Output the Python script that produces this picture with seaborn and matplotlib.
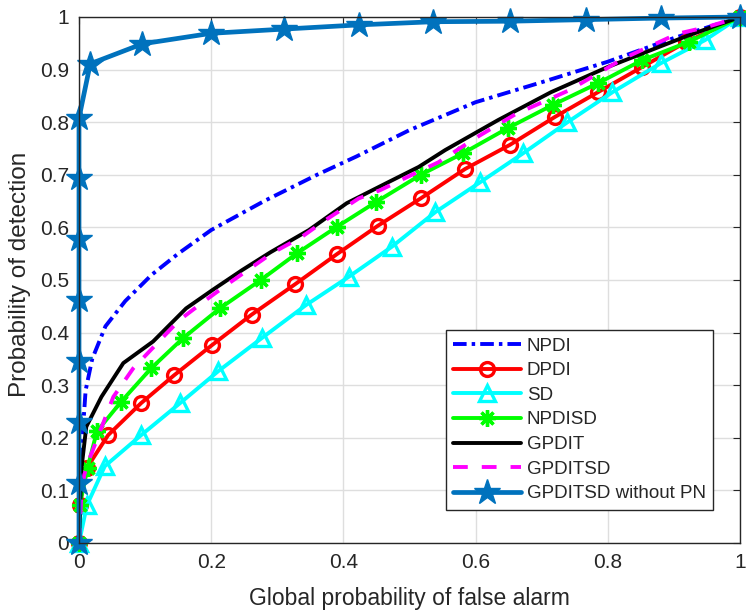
import matplotlib
matplotlib.use("Agg")
import matplotlib.pyplot as plt
from matplotlib.ticker import FuncFormatter
import seaborn as sns

# ---------------- data ----------------
npdi_x = [0, 0.002, 0.004, 0.010, 0.020, 0.040, 0.070, 0.110, 0.150, 0.200,
          0.280, 0.360, 0.420, 0.500, 0.600, 0.700, 0.800, 0.900, 1.000]
npdi_y = [0, 0.120, 0.180, 0.290, 0.350, 0.412, 0.460, 0.510, 0.550, 0.595,
          0.650, 0.700, 0.735, 0.785, 0.838, 0.876, 0.915, 0.960, 1.000]

dpdi_x = [0, 0.001, 0.012, 0.044, 0.094, 0.144, 0.201, 0.261, 0.327, 0.390,
          0.452, 0.518, 0.584, 0.652, 0.720, 0.785, 0.852, 0.918, 1.000]
dpdi_y = [0, 0.072, 0.143, 0.205, 0.266, 0.319, 0.376, 0.434, 0.492, 0.549,
          0.603, 0.656, 0.711, 0.757, 0.810, 0.857, 0.905, 0.952, 1.000]

sd_x = [0, 0.012, 0.039, 0.094, 0.153, 0.211, 0.277, 0.343, 0.408, 0.473,
        0.539, 0.607, 0.672, 0.739, 0.807, 0.880, 0.947, 1.000]
sd_y = [0, 0.072, 0.146, 0.205, 0.266, 0.327, 0.390, 0.452, 0.506, 0.563,
        0.629, 0.686, 0.741, 0.800, 0.857, 0.912, 0.956, 1.000]

npdisd_x = [0, 0.001, 0.013, 0.027, 0.064, 0.109, 0.157, 0.213, 0.275, 0.330,
            0.390, 0.449, 0.517, 0.581, 0.649, 0.717, 0.785, 0.852, 0.923, 1.000]
npdisd_y = [0, 0.072, 0.143, 0.212, 0.269, 0.332, 0.389, 0.446, 0.500, 0.551,
            0.601, 0.648, 0.700, 0.741, 0.789, 0.833, 0.874, 0.918, 0.953, 1.000]

gpdit_x = [0, 0.002, 0.004, 0.011, 0.034, 0.067, 0.112, 0.162, 0.202, 0.247,
           0.290, 0.348, 0.405, 0.468, 0.514, 0.554, 0.634, 0.714, 0.800, 0.855,
           0.920, 1.000]
gpdit_y = [0, 0.080, 0.145, 0.221, 0.278, 0.342, 0.383, 0.446, 0.481, 0.519,
           0.553, 0.595, 0.646, 0.686, 0.715, 0.747, 0.804, 0.857, 0.905, 0.932,
           0.964, 1.000]

gpditsd_x = [0, 0.003, 0.008, 0.017, 0.052, 0.082, 0.117, 0.152, 0.192, 0.227,
             0.292, 0.337, 0.373, 0.423, 0.456, 0.497, 0.544, 0.600, 0.660,
             0.742, 0.825, 0.905, 0.950, 1.000]
gpditsd_y = [0, 0.080, 0.130, 0.164, 0.278, 0.332, 0.378, 0.424, 0.462, 0.494,
             0.551, 0.582, 0.614, 0.655, 0.671, 0.696, 0.724, 0.770, 0.815,
             0.861, 0.922, 0.968, 0.981, 1.000]

gpditsd_pn_x = [0, 0, 0, 0, 0, 0, 0, 0, 0.017, 0.096, 0.200, 0.310, 0.423,
                0.536, 0.652, 0.767, 0.880, 1.000]
gpditsd_pn_y = [0, 0.115, 0.230, 0.346, 0.462, 0.577, 0.694, 0.808, 0.911,
                0.949, 0.969, 0.977, 0.985, 0.991, 0.992, 0.995, 0.998, 1.000]

labels = ["NPDI", "DPDI", "SD", "NPDISD", "GPDIT", "GPDITSD", "GPDITSD without PN"]
x_ticks = [0, 0.2, 0.4, 0.6, 0.8, 1.0]
y_ticks = [0, 0.1, 0.2, 0.3, 0.4, 0.5, 0.6, 0.7, 0.8, 0.9, 1.0]

# ---------------- figure ----------------
sns.set_theme(style="white")
plt.rcParams["font.family"] = ["Liberation Sans", "DejaVu Sans"]

fig = plt.figure(figsize=(7.46, 6.12), dpi=100)
ax = fig.add_axes([79 / 746, 69 / 612, 661 / 746, 526 / 612])

lw = 2.8
series = [
    (npdi_x, npdi_y, dict(color="#0000FF", linestyle=(0, (3.5, 1.3, 0.9, 1.3)))),
    (dpdi_x, dpdi_y, dict(color="#FF0000", marker="o", markersize=10,
                          markerfacecolor="none", markeredgecolor="#FF0000",
                          markeredgewidth=2.4)),
    (sd_x, sd_y, dict(color="#00FFFF", marker="^", markersize=12,
                      markerfacecolor="none", markeredgecolor="#00FFFF",
                      markeredgewidth=2.4)),
    (npdisd_x, npdisd_y, dict(color="#00FF00", marker=(8, 2, 0), markersize=12,
                              markeredgecolor="#00FF00", markeredgewidth=2.4)),
    (gpdit_x, gpdit_y, dict(color="black")),
    (gpditsd_x, gpditsd_y, dict(color="#FF00FF", linestyle=(0, (3.8, 3.6)))),
    (gpditsd_pn_x, gpditsd_pn_y, dict(color="#0072BD", marker="*", markersize=19,
                                      markeredgecolor="#0072BD", markeredgewidth=1,
                                      linewidth=3.4)),
]

for (xs, ys, kw), lab in zip(series, labels):
    kw = dict(kw)
    kw.setdefault("linewidth", lw)
    sns.lineplot(x=xs, y=ys, ax=ax, sort=False, estimator=None, label=lab,
                 clip_on=False, legend=False, **kw)

ax.set_xlim(0, 1)
ax.set_ylim(0, 1)
ax.set_xticks(x_ticks)
ax.set_yticks(y_ticks)
fmt = FuncFormatter(lambda v, p: "%g" % round(v, 3))
ax.xaxis.set_major_formatter(fmt)
ax.yaxis.set_major_formatter(fmt)

ax.grid(True, color="#dedede", linewidth=1.0)
ax.set_axisbelow(True)
for s in ax.spines.values():
    s.set_color("#262626")
    s.set_linewidth(1.0)
    s.set_visible(True)
ax.tick_params(direction="in", length=5, width=0.8, colors="#262626",
               top=True, right=True, labelsize=15, pad=7)

ax.set_xlabel("Global probability of false alarm", fontsize=16.5, color="#262626")
ax.set_ylabel("Probability of detection", fontsize=17.5, color="#262626")
ax.xaxis.set_label_coords(0.5, -0.083)
ax.yaxis.set_label_coords(-0.072, 0.51)

handles, labs = ax.get_legend_handles_labels()
leg = ax.legend(handles, labs, loc="upper left",
                bbox_to_anchor=(446 / 746, 1 - 330 / 612),
                bbox_transform=fig.transFigure,
                fontsize=13.5, frameon=True, fancybox=False, framealpha=1,
                edgecolor="#262626", handlelength=3.6, handletextpad=0.3,
                borderpad=0.4, labelspacing=0.4, borderaxespad=0)
leg.get_frame().set_linewidth(1.0)

fig.savefig("out.png", dpi=100)
